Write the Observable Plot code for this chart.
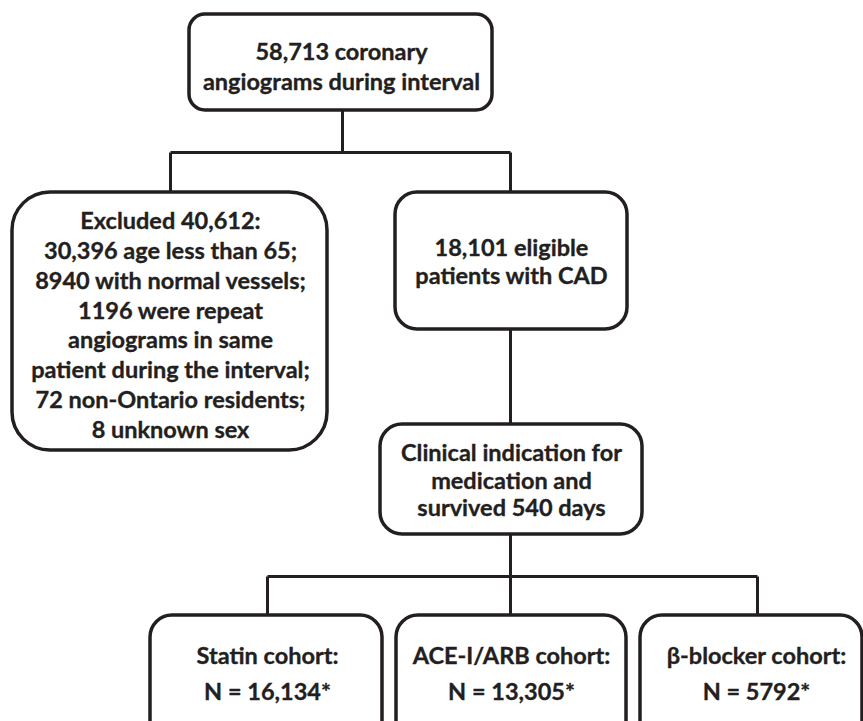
<!DOCTYPE html>
<html>
<head>
<meta charset="utf-8">
<script src="https://cdn.jsdelivr.net/npm/d3@7"></script>
<script src="https://cdn.jsdelivr.net/npm/@observablehq/plot@0.6"></script>
<style>
  html, body { margin: 0; padding: 0; background: #fff; }
  #chart svg { display: block; }
</style>
</head>
<body>
<div id="chart"></div>
<script>
// Node labels (text content)
const nodeIds = ["top", "excluded", "eligible", "clinical", "statin", "ace", "beta"];
const nodeLabels = [
  "58,713 coronary\nangiograms during interval",
  "Excluded 40,612:\n30,396 age less than 65;\n8940 with normal vessels;\n1196 were repeat\nangiograms in same\npatient during the interval;\n72 non-Ontario residents;\n8 unknown sex",
  "18,101 eligible\npatients with CAD",
  "Clinical indication for\nmedication and\nsurvived 540 days",
  "Statin cohort:\nN = 16,134*",
  "ACE-I/ARB cohort:\nN = 13,305*",
  "β-blocker cohort:\nN = 5792*"
];

// Diagram layout (pixel frame of the flowchart)
const boxLeft   = [189, 12, 395, 380, 150, 396, 640];
const boxRight  = [492, 327, 627, 642, 382, 626, 862];
const boxTop    = [14, 192, 192, 424, 615, 615, 615];
const boxBottom = [110, 450, 329, 534, 760, 760, 760];
const boxRadius = [16, 38, 22, 22, 22, 22, 22];
const textX     = [341, 170, 511, 511, 267, 511, 756];
const textY     = [65, 323.5, 261, 479.5, 670, 670, 670];
const lineGap   = [1.27, 1.27, 1.19, 1.17, 1.53, 1.53, 1.53];

// Connector segments
const segFrom = [[342,110],[170,152],[170,152],[510,152],[510,329],[267,576],[267,576],[510,534],[757,576]];
const segTo   = [[342,152],[510,152],[170,192],[510,192],[510,424],[757,576],[267,615],[510,615],[757,615]];

const boxes = nodeIds.map((id, i) => ({
  id, label: nodeLabels[i],
  x1: boxLeft[i], x2: boxRight[i], y1: boxTop[i], y2: boxBottom[i],
  r: boxRadius[i], tx: textX[i], ty: textY[i], lh: lineGap[i]
}));
const segs = segFrom.map((f, i) => ({x1: f[0], y1: f[1], x2: segTo[i][0], y2: segTo[i][1]}));

const ink = "#231f20";
const W = 863, H = 721;

const chart = Plot.plot({
  width: W, height: H,
  margin: 0,
  x: {domain: [0, W], range: [0, W], axis: null},
  y: {domain: [0, H], range: [0, H], axis: null},
  style: {fontFamily: "Lato, 'Open Sans', sans-serif", background: "#fff"},
  marks: [
    Plot.link(segs, {x1: "x1", y1: "y1", x2: "x2", y2: "y2", stroke: ink, strokeWidth: 3}),
    ...boxes.map(b => Plot.rect([b], {
      x1: "x1", x2: "x2", y1: "y1", y2: "y2",
      fill: "#fff", stroke: ink, strokeWidth: 3.5, rx: b.r
    })),
    ...boxes.map(b => Plot.text([b], {
      x: "tx", y: "ty", text: "label",
      fontSize: 23.5, fontWeight: "bold", fill: ink,
      stroke: ink, strokeWidth: 0.35,
      lineHeight: b.lh, textAnchor: "middle", lineAnchor: "middle"
    }))
  ]
});
document.getElementById("chart").appendChild(chart);
</script>
</body>
</html>
